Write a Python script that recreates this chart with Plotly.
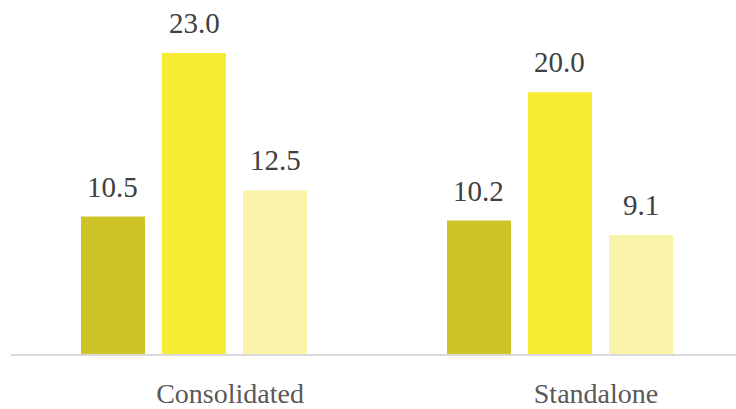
import plotly.graph_objects as go

categories = ["Consolidated", "Standalone"]
series_a = [10.5, 10.2]
series_b = [23.0, 20.0]
series_c = [12.5, 9.1]
colors = ["#CEC42A", "#F7EC33", "#F8F3A8"]

FONT = "Liberation Serif"
x_idx = list(range(len(categories)))

fig = go.Figure()
for vals, col in zip([series_a, series_b, series_c], colors):
    fig.add_trace(go.Bar(x=x_idx, y=vals, marker=dict(color=col, line=dict(width=0)),
                         hoverinfo="skip", showlegend=False))

# value labels
slot = (1 - 0.336) / 3
for k, vals in enumerate([series_a, series_b, series_c]):
    for i, v in enumerate(vals):
        fig.add_annotation(x=x_idx[i] + (k - 1) * slot, y=v, text=f"{v:.1f}",
                           showarrow=False, yanchor="bottom", yshift=12,
                           font=dict(family=FONT, size=29, color="#404040"))

fig.update_layout(
    width=736, height=409,
    margin=dict(l=11, r=0, t=0, b=49),
    barmode="group", bargap=0.336, bargroupgap=0.21,
    plot_bgcolor="white", paper_bgcolor="white",
    xaxis=dict(range=[-0.5, 1.4809], tickmode="array", tickvals=x_idx, ticktext=categories,
               showgrid=False, zeroline=False, showline=True, linecolor="#D9D9D9", linewidth=2,
               ticks="", ticklabelshift=36, ticklabelstandoff=13,
               tickfont=dict(family=FONT, size=28, color="#595959")),
    yaxis=dict(range=[0, 27.05], visible=False, showgrid=False, zeroline=False),
)

fig.write_html("out.html")
